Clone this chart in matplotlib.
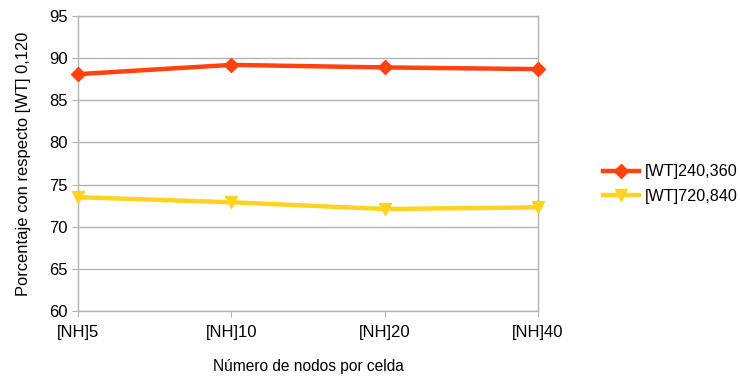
import matplotlib.pyplot as plt

plt.rcParams['font.family'] = ['Liberation Sans', 'DejaVu Sans']

categories = ['[NH]5', '[NH]10', '[NH]20', '[NH]40']
wt_240_360 = [88.1, 89.2, 88.9, 88.7]
wt_720_840 = [73.5, 72.9, 72.1, 72.3]

grid_col = '#b3b3b3'

fig = plt.figure(figsize=(7.4, 3.76), dpi=100)
ax = fig.add_axes([78 / 740, 1 - 311 / 376, 460 / 740, 295 / 376])

x = list(range(len(categories)))
ax.plot(x, wt_240_360, color='#ff420e', lw=3.2, marker='D', ms=7,
        label='[WT]240,360', clip_on=False, zorder=3)
ax.plot(x, wt_720_840, color='#ffd320', lw=3.2, marker='v', ms=9,
        label='[WT]720,840', clip_on=False, zorder=3)

ax.set_xlim(0, 3)
ax.set_ylim(60, 95)
ax.set_yticks(range(60, 96, 5))
ax.set_xticks(x)
ax.set_xticklabels(categories)
ax.yaxis.grid(True, color=grid_col, lw=1)
ax.set_axisbelow(True)
for s in ax.spines.values():
    s.set_color(grid_col)
    s.set_linewidth(1)
ax.tick_params(colors=grid_col, labelcolor='black', labelsize=12, length=4)
ax.tick_params(axis='x', pad=6)

ax.set_xlabel('Número de nodos por celda', fontsize=11.2, labelpad=14)
ax.set_ylabel('Porcentaje con respecto [WT] 0,120', fontsize=11.9, labelpad=13)

ax.legend(loc='center left', bbox_to_anchor=(1.11, 0.43), frameon=False,
          fontsize=11.6, handlelength=2.2, handletextpad=0.4, labelspacing=0.6)

fig.savefig('out.png', dpi=100)
